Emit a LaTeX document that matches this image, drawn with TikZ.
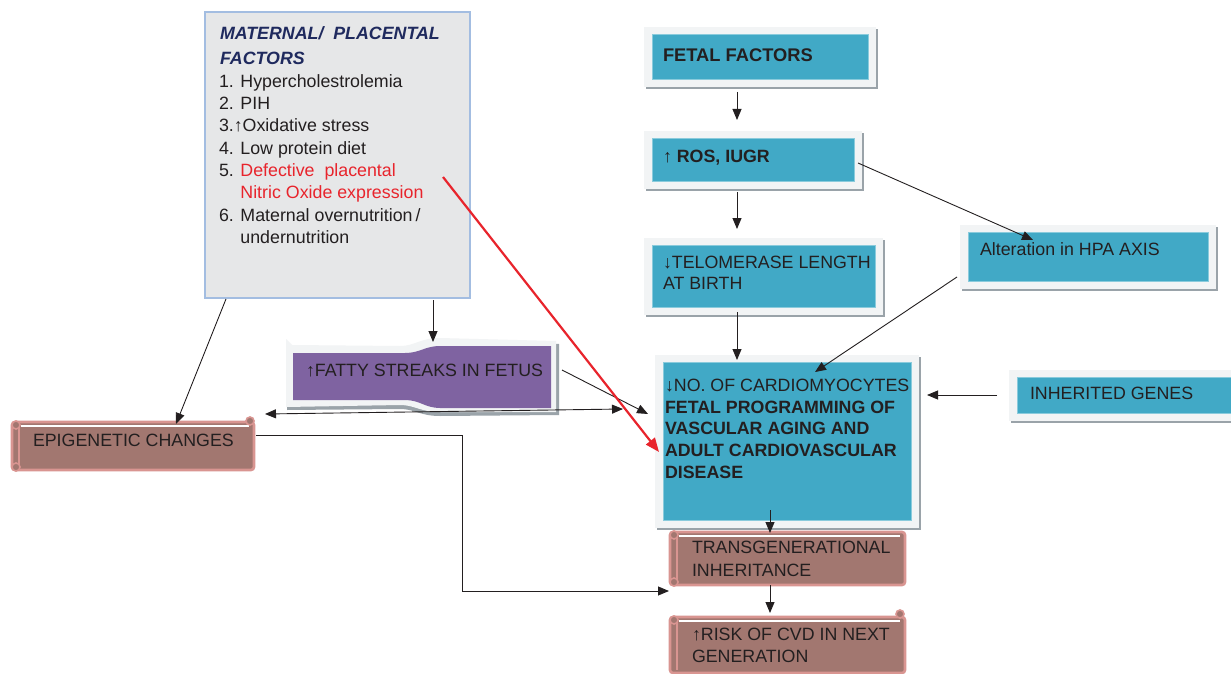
\documentclass[tikz,border=0pt]{standalone}
\usepackage{fontspec}
\setmainfont{Liberation Sans}
\usetikzlibrary{arrows.meta,backgrounds,calc}

\definecolor{ink}{HTML}{231F20}
\definecolor{tealfill}{HTML}{41A9C6}
\definecolor{tealedge}{HTML}{8ACBDC}
\definecolor{framefill}{HTML}{F2F4F5}
\definecolor{frameshadow}{HTML}{9AA3A9}
\definecolor{matfill}{HTML}{E6E7E8}
\definecolor{matedge}{HTML}{A3BDE1}
\definecolor{navy}{HTML}{1F2A5E}
\definecolor{redc}{HTML}{E8242C}
\definecolor{brownfill}{HTML}{A27770}
\definecolor{pinkedge}{HTML}{D99591}
\definecolor{purplefill}{HTML}{7F63A1}

\newcommand\st{\rule{0pt}{14.3pt}}

\newcommand\tealframed[5]{%
  \fill[frameshadow] (#2-6,#3-5) rectangle (#4+10,#5+10);
  \fill[framefill] (#2-8,#3-7) rectangle (#4+8,#5+8);
  \node[tealbox, minimum width={#4-#2}, minimum height={#5-#3}] (#1) at (#2,#3) {};
}
\newcommand\scrollbox[5]{%
  \node[brownbox, minimum width={#4-#2}, minimum height={#5-#3}] (#1) at (#2,#3) {};
  \draw[white, line width=1.3pt] (#2+9,#3+4) -- (#4-5,#3+4);
  \draw[pinkedge, line width=1.6pt] (#2+7,#3+3) -- (#2+7,#5-3);
}

\begin{document}
\begin{tikzpicture}[x=1pt,y=-1pt,
  tealbox/.style={draw=tealedge, line width=0.8pt, fill=tealfill, inner sep=0pt, outer sep=0pt, anchor=north west},
  brownbox/.style={draw=pinkedge, line width=2.6pt, fill=brownfill, rounded corners=3pt, inner sep=0pt, outer sep=0pt, anchor=north west},
  curl/.style={draw=pinkedge, fill=brownfill, line width=1.6pt},
  txt/.style={anchor=north west, inner sep=0pt, outer sep=0pt, align=left, text=ink, font=\fontsize{17.8}{22.3}\selectfont},
  arr/.style={draw=ink, line width=0.9pt, -{Triangle[length=11pt,width=9pt]}},
  darr/.style={draw=ink, line width=0.9pt, {Triangle[length=11pt,width=9pt]}-{Triangle[length=11pt,width=9pt]}},
  redarr/.style={draw=redc, line width=2.2pt, -{Triangle[length=14pt,width=11pt]}}
]
\useasboundingbox (0,0) rectangle (1231,674);
\fill[white] (0,0) rectangle (1231,674);

% maternal box
\node[draw=matedge, line width=2.4pt, fill=matfill, anchor=north west, inner sep=0pt, outer sep=0pt,
      minimum width=265, minimum height=286] (mat) at (205,12) {};
\node[txt, text=navy, font=\fontsize{17.8}{25}\selectfont\bfseries\itshape] (matt) at (220,24.9)
  {\st MATERNAL/\ \ PLACENTAL\\FACTORS};
\node[txt] (matl) at (219,72.9)
  {\st 1. Hypercholestrolemia\\
   2. PIH\\
   3.↑Oxidative stress\\
   4. Low protein diet\\
   5. \textcolor{redc}{Defective\ \ placental}\\
   \phantom{5. }\textcolor{redc}{Nitric Oxide expression}\\
   6. Maternal overnutrition\,/\\
   \phantom{6. }undernutrition};

% teal framed boxes
\tealframed{ff}{652}{34}{868}{79}
\node[txt, font=\fontsize{18.3}{22.3}\selectfont\bfseries] (fft) at (663,46.9) {\st FETAL FACTORS};
\tealframed{ros}{652}{138}{854}{181}
\node[txt] (rost) at (663,147.9) {\st↑ \textbf{ROS, IUGR}};
\tealframed{tel}{652}{245}{875}{307}
\node[txt, font=\fontsize{17.8}{21.5}\selectfont] (telt) at (663,253.9) {\st↓TELOMERASE LENGTH\\AT BIRTH};
\tealframed{big}{663}{362}{911}{520}
\node[txt, font=\fontsize{17.8}{21.8}\selectfont] (bigt) at (665,376.9)
  {\st↓NO. OF CARDIOMYOCYTES\\
   \textbf{FETAL PROGRAMMING OF}\\
   \textbf{VASCULAR AGING AND}\\
   \textbf{ADULT CARDIOVASCULAR}\\
   \textbf{DISEASE}};
\tealframed{hpa}{968}{232}{1208}{281}
\node[txt] (hpat) at (980,241.4) {\st Alteration in HPA AXIS};
\tealframed{inh}{1017}{377}{1245}{413}
\node[txt] (inht) at (1030,385.4) {\st INHERITED GENES};

% fatty streaks banner
\fill[frameshadow] (287,347) -- (400,349) .. controls (415,349) and (420,342) .. (440,342) -- (559,344) -- (559,415)
  -- (440,416) .. controls (420,416) and (415,409) .. (400,409) -- (287,410) -- cycle;
\fill[framefill] (286,339) -- (292,345) -- (400,346) .. controls (415,346) and (420,338) .. (440,338) -- (556,341) -- (556,412)
  -- (440,412) .. controls (420,412) and (415,405) .. (400,405) -- (286,407) -- cycle;
\fill[purplefill] (293,353) -- (405,353) .. controls (420,353) and (425,346) .. (440,346) -- (551,346) -- (551,408)
  -- (440,408) .. controls (425,408) and (420,400) .. (405,400) -- (293,400) -- cycle;
\node[inner sep=0pt, outer sep=0pt, anchor=north west, minimum width=258, minimum height=61] (fat) at (293,347) {};
\node[txt] (fatt) at (306,362.4) {\st↑FATTY STREAKS IN FETUS};

% brown scroll boxes
\scrollbox{epi}{12}{422}{254}{470}
\draw[curl] (16,425) circle (4);
\draw[curl] (16,467) circle (4);
\draw[curl] (250,421) circle (4);
\node[txt] (epit) at (33,432.4) {\st EPIGENETIC CHANGES};

\scrollbox{tr}{670}{532}{905}{585}
\draw[curl] (674,535) circle (4);
\draw[curl] (674,582) circle (4);
\node[txt, font=\fontsize{17.8}{22.5}\selectfont] (trt) at (692,539.4) {\st TRANSGENERATIONAL\\INHERITANCE};

\scrollbox{risk}{670}{617}{905}{673}
\draw[curl] (674,620) circle (4);
\draw[curl] (900,614) circle (4);
\node[txt] (riskt) at (692,625.9) {\st↑RISK OF CVD IN NEXT\\GENERATION};

% connectors
\draw[arr] ($(ff.south)+(-23,13)$) -- ($(ros.north)+(-16,-18)$);
\draw[arr] ($(ros.south)+(-16,11)$) -- ($(tel.north)+(-26.5,-16)$);
\draw[arr] ($(tel.south)+(-26.5,5)$) -- ($(big.north)+(-50,-2)$);
\draw[arr] ($(ros.east)+(4,3.5)$) -- ($(hpa.north)+(-55,8)$);
\draw[arr] ($(hpa.west)+(-11,20.5)$) -- ($(big.north)+(28,10)$);
\draw[arr] ($(inh.west)+(-20,0)$) -- ($(big.east)+(16,-46)$);
\draw[arr] ($(mat.south west)+(21,1)$) -- ($(epi.north)+(43,2)$);
\draw[arr] ($(mat.south)+(95.5,2)$) -- ($(fat.north)+(11,-5)$);
\draw[arr] ($(fat.east)+(11,-7.5)$) -- ($(big.west)+(-15,-27)$);
\draw[darr] ($(epi.north east)+(11,-8)$) -- ($(big.west)+(-40,-32)$);
\draw[redarr] ($(mat.east)+(-27,22)$) -- ($(big.west)+(-4,11)$);
\draw[arr] ($(epi.east)+(2,-11)$) -| ($(tr.south west)+(-208,6)$) -- ($(tr.south west)+(-1,6)$);
\draw[arr] ($(big.south)+(-17,-10)$) -- ($(tr.north)+(-17.5,1)$);
\draw[arr] ($(tr.south)+(-17.5,0)$) -- ($(risk.north)+(-17.5,-4)$);
\end{tikzpicture}
\end{document}
